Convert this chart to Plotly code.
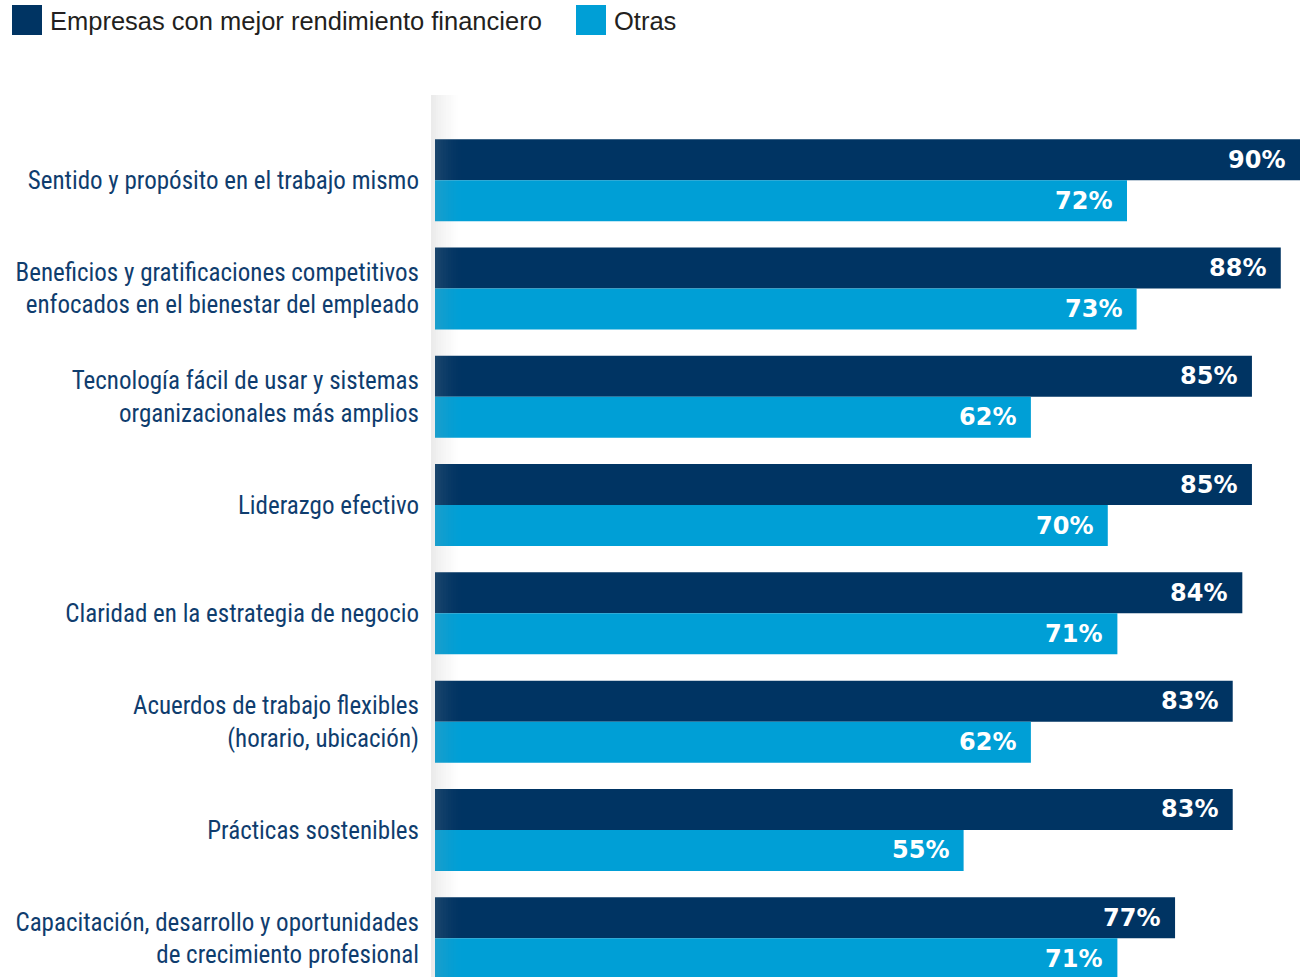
import plotly.graph_objects as go

categories = [
    "Sentido y propósito en el trabajo mismo",
    "Beneficios y gratificaciones competitivos<br>enfocados en el bienestar del empleado",
    "Tecnología fácil de usar y sistemas<br>organizacionales más amplios",
    "Liderazgo efectivo",
    "Claridad en la estrategia de negocio",
    "Acuerdos de trabajo flexibles<br>(horario, ubicación)",
    "Prácticas sostenibles",
    "Capacitación, desarrollo y oportunidades<br>de crecimiento profesional",
]
series_names = ["Empresas con mejor rendimiento financiero", "Otras"]
top_perf = [90, 88, 85, 85, 84, 83, 83, 77]
others = [72, 73, 62, 70, 71, 62, 55, 71]

DARK = "#003463"
LIGHT = "#009fd6"
W, H = 1307, 977
ML, MR, MT, MB = 435, 7, 126, 0
PW, PH = W - ML - MR, H - MT - MB


def px_x(px):
    return (px - ML) / PW


def px_y(py):
    return (H - MB - py) / PH


pos = list(range(len(categories)))
fig = go.Figure()
fig.add_trace(go.Bar(y=pos, x=top_perf, orientation="h", name=series_names[0],
                     marker=dict(color=DARK, line=dict(width=0)), showlegend=False))
fig.add_trace(go.Bar(y=pos, x=others, orientation="h", name=series_names[1],
                     marker=dict(color=LIGHT, line=dict(width=0)), showlegend=False))

annotations = []
off = 0.757 / 4
for i, (a, b) in enumerate(zip(top_perf, others)):
    for v, yo in ((a, -off), (b, off)):
        annotations.append(dict(x=v, y=i + yo, xref="x", yref="y", text=f"{v}%",
                                showarrow=False, xanchor="right", yanchor="middle",
                                xshift=-13, font=dict(family="DejaVu Sans", size=24,
                                                      color="white", weight="bold")))

# legend
shapes = []
leg = [(12, DARK, series_names[0]), (576, LIGHT, series_names[1])]
for x0, col, name in leg:
    shapes.append(dict(type="rect", xref="paper", yref="paper", x0=px_x(x0), x1=px_x(x0 + 30),
                       y0=px_y(35), y1=px_y(5), fillcolor=col, line=dict(width=0), layer="above"))
    annotations.append(dict(x=px_x(x0 + 36), y=px_y(21), xref="paper", yref="paper", text=name,
                            showarrow=False, xanchor="left", yanchor="middle",
                            font=dict(family="Liberation Sans, Arial", size=25.5, color="#231f20")))

# subtle shadow gradient left of bars
for k in range(12):
    x0 = 431 + k * 2.5
    shapes.append(dict(type="rect", xref="paper", yref="paper", x0=px_x(x0), x1=px_x(x0 + 2.5),
                       y0=0, y1=px_y(95), fillcolor="#9a9a9a", opacity=0.2 * (1 - k / 12) ** 1.5,
                       line=dict(width=0), layer="above"))

fig.update_layout(
    width=W, height=H,
    margin=dict(l=ML, r=MR, t=MT, b=MB),
    paper_bgcolor="white", plot_bgcolor="white",
    barmode="group", bargap=0.243, bargroupgap=0,
    xaxis=dict(range=[0, 90], visible=False, fixedrange=True),
    yaxis=dict(range=[-0.5 + PH / 108.3, -0.5], tickmode="array", tickvals=pos, ticktext=categories,
               showgrid=False, zeroline=False, showline=False, ticks="", ticklabelstandoff=15,
               tickfont=dict(family="Liberation Sans Narrow, Roboto Condensed, Arial Narrow, sans-serif",
                             size=25, color="#0f3d6e")),
    annotations=annotations, shapes=shapes,
    showlegend=False,
)
fig.write_html("out.html")
